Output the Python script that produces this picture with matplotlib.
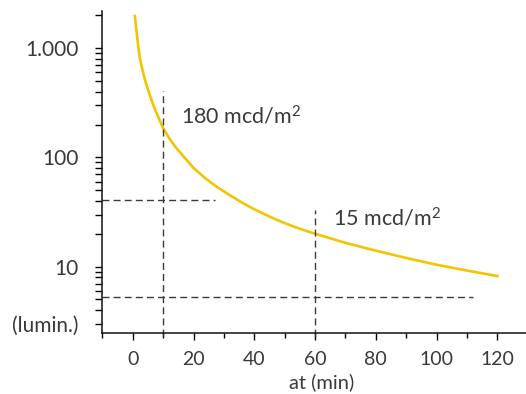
import matplotlib
matplotlib.use("Agg")
import matplotlib.pyplot as plt
import numpy as np
from matplotlib.ticker import FixedLocator, LogLocator, NullFormatter, MultipleLocator

# Luminance decay curve
time_min = [0.7, 1, 1.4, 2, 2.4, 3, 4, 5, 6, 7, 8, 10, 12, 14, 17, 20, 24,
            28, 32, 36, 40, 45, 50, 55, 60, 70, 80, 90, 100, 110, 120]
lumin = [1970, 1650, 1300, 950, 800, 670, 515, 420, 345, 290, 248, 185,
         150, 125, 100, 80, 64, 53, 45, 38.5, 33.5, 28.7, 25, 22.2, 20,
         16.5, 14, 12, 10.4, 9.2, 8.2]

# Reference markers
mark_x = [10, 60]
mark_top = [408, 33]
hline_y = [40.8, 5.24]
hline_end = [27, 112]
mark_labels = ["180 mcd/m$^2$", "15 mcd/m$^2$"]
label_pos = [(15.9, 236), (65.8, 27.7)]

ytick_vals = [3, 10, 100, 1000]
ytick_labels = ["(lumin.)", "10", "100", "1.000"]
xtick_vals = [0, 20, 40, 60, 80, 100, 120]

plt.rcParams["font.family"] = ["Lato", "DejaVu Sans"]
plt.rcParams["mathtext.fontset"] = "custom"
plt.rcParams["mathtext.rm"] = "Lato"
plt.rcParams["mathtext.default"] = "regular"
text_color = "#3a3a3a"
curve_color = "#f2c500"

fig = plt.figure(figsize=(5.26, 3.94), dpi=100)
ax = fig.add_axes([0.194, 0.154, 0.806, 0.818])

ax.plot(time_min, lumin, color=curve_color, linewidth=1.9,
        solid_joinstyle="round")

ax.set_yscale("log")
ax.set_xlim(-10.1, 129.4)
ax.set_ylim(2.45, 2190)

dash = dict(color=text_color, linewidth=1.0, dashes=(5, 3), clip_on=False)
for xv, top in zip(mark_x, mark_top):
    ax.plot([xv, xv], [2.3, top], **dash)
for yv, xe in zip(hline_y, hline_end):
    ax.plot([-10.1, xe], [yv, yv], **dash)

for txt, (px, py) in zip(mark_labels, label_pos):
    ax.text(px, py, txt, fontsize=15.5, color=text_color, ha="left", va="center")

# y axis ticks
ax.yaxis.set_major_locator(FixedLocator(ytick_vals))
ax.set_yticklabels(ytick_labels)
ax.yaxis.set_minor_locator(LogLocator(base=10, subs=np.arange(2, 10), numticks=20))
ax.yaxis.set_minor_formatter(NullFormatter())
ax.tick_params(axis="y", which="both", direction="out", length=5, width=1,
               labelsize=15, pad=12, labelcolor=text_color)

# x axis ticks
ax.xaxis.set_major_locator(FixedLocator(xtick_vals))
ax.xaxis.set_minor_locator(MultipleLocator(10))
ax.tick_params(axis="x", which="major", direction="out", length=5, width=1,
               labelsize=14, pad=8, labelcolor=text_color)
ax.tick_params(axis="x", which="minor", direction="out", length=3.5, width=1)

ax.set_xlabel("at (min)", fontsize=14.5, color=text_color)
ax.xaxis.set_label_coords(0.519, -0.125)

ax.spines["top"].set_visible(False)
ax.spines["right"].set_visible(False)
for s in ("left", "bottom"):
    ax.spines[s].set_linewidth(1.1)
    ax.spines[s].set_color("#111111")

fig.savefig("out.png", dpi=100)
